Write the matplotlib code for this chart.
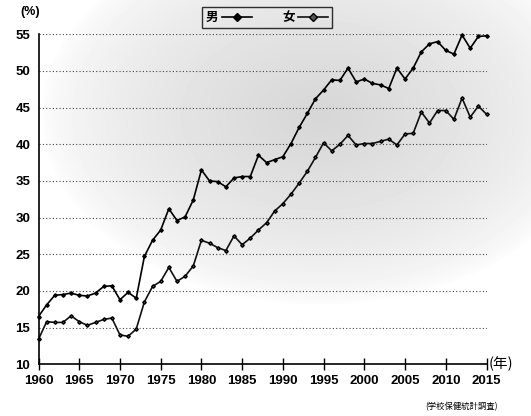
import matplotlib

matplotlib.use("Agg")
import matplotlib.pyplot as plt
import numpy as np

# ============================================================
# Data, 1960-2015
# ============================================================
years = list(range(1960, 2016))

male = [
    16.5, 18.1, 19.4, 19.5, 19.7, 19.4, 19.3, 19.7, 20.6, 20.7,  # 1960-69
    18.8, 19.8, 19.0, 24.7, 26.9, 28.3, 31.2, 29.6, 30.1, 32.4,  # 1970-79
    36.5, 35.0, 34.9, 34.2, 35.4, 35.6, 35.6, 38.5, 37.5, 37.9,  # 1980-89
    38.3, 40.1, 42.3, 44.2, 46.2, 47.4, 48.8, 48.7, 50.4, 48.5,  # 1990-99
    48.9, 48.3, 48.1, 47.6, 50.4, 48.9, 50.4, 52.6, 53.7, 54.0,  # 2000-09
    52.8, 52.3, 54.9, 53.1, 54.7, 54.8,                          # 2010-15
]

female = [
    13.4, 15.8, 15.7, 15.7, 16.6, 15.8, 15.3, 15.7, 16.1, 16.3,  # 1960-69
    14.0, 13.8, 14.8, 18.5, 20.6, 21.3, 23.2, 21.3, 22.0, 23.4,  # 1970-79
    26.9, 26.5, 25.9, 25.5, 27.5, 26.3, 27.2, 28.3, 29.3, 30.9,  # 1980-89
    31.9, 33.2, 34.7, 36.3, 38.2, 40.2, 39.1, 40.0, 41.2, 39.9,  # 1990-99
    40.1, 40.1, 40.4, 40.7, 39.9, 41.4, 41.5, 44.4, 42.9, 44.6,  # 2000-09
    44.6, 43.4, 46.3, 43.7, 45.2, 44.1,                          # 2010-15
]

x_ticks = list(range(1960, 2016, 5))
y_ticks = list(range(10, 56, 5))

# ============================================================
# Figure
# ============================================================
W, H = 531, 416
fig = plt.figure(figsize=(W / 100, H / 100), dpi=100)

# stippled grey backdrop of the scan, approximated by a soft elliptical shade
bg = fig.add_axes([0, 0, 1, 1], zorder=0)
gx, gy = np.meshgrid(np.arange(W), np.arange(H))
r = np.sqrt(((gx - 320) / 280.0) ** 2 + ((gy - 115) / 190.0) ** 2)
shade = 1 - 0.16 * np.clip(1 - r, 0, 1) ** 0.6
bg.imshow(shade, cmap="gray", vmin=0, vmax=1, aspect="auto", interpolation="bilinear")
bg.axis("off")

ax = fig.add_axes(
    [38.5 / W, 1 - 364.2 / H, (486.5 - 38.5) / W, (364.2 - 34.3) / H], zorder=1
)
ax.patch.set_alpha(0)

ax.plot(
    years, male, color="black", linewidth=1.2, marker="D", markersize=1.8,
    markerfacecolor="black", markeredgecolor="black", clip_on=False, label="男",
)
ax.plot(
    years, female, color="#111111", linewidth=1.2, marker="D", markersize=1.8,
    markerfacecolor="#555555", markeredgecolor="black", clip_on=False, label="女",
)

ax.set_xlim(1960, 2015)
ax.set_ylim(10, 55)
ax.set_xticks(x_ticks)
ax.set_yticks(y_ticks)

tick_font = dict(family="Liberation Sans", size=9.5, weight="bold")
ax.set_xticklabels([str(v) for v in x_ticks], **tick_font)
ax.set_yticklabels([str(v) for v in y_ticks], **tick_font)
ax.tick_params(axis="x", direction="inout", length=9, width=1, pad=3)
ax.tick_params(axis="y", length=0, pad=6)

ax.grid(axis="y", linestyle=(0, (1, 2)), color="#444444", linewidth=0.8)
ax.set_axisbelow(True)
for s in ["top", "right"]:
    ax.spines[s].set_visible(False)
for s in ["left", "bottom"]:
    ax.spines[s].set_linewidth(1.2)

cjk = ["Noto Sans CJK JP", "DejaVu Sans"]
fig.text(30 / W, 1 - 12 / H, "(%)", family="Liberation Sans", size=9,
         weight="bold", ha="center", va="center")
fig.text(489 / W, 1 - 364 / H, "(年)", family=cjk, size=10.5,
         ha="left", va="center")
fig.text(462 / W, 1 - 407 / H, "(学校保健統計調査)", family=cjk, size=6,
         ha="center", va="center")

leg = ax.legend(
    loc="center", bbox_to_anchor=(267 / W, 1 - 17.5 / H),
    bbox_transform=fig.transFigure, ncol=2, markerfirst=False,
    frameon=True, fancybox=False, handlelength=2.4, columnspacing=2.4,
    handletextpad=0.3, borderpad=0.3, borderaxespad=0,
    prop={"family": cjk, "size": 9, "weight": "bold"},
)
for h in leg.legend_handles:
    h.set_markersize(4.5)
leg.get_frame().set_edgecolor("black")
leg.get_frame().set_linewidth(1.0)
leg.get_frame().set_facecolor("none")

fig.savefig("out.png", dpi=100)
plt.close(fig)
